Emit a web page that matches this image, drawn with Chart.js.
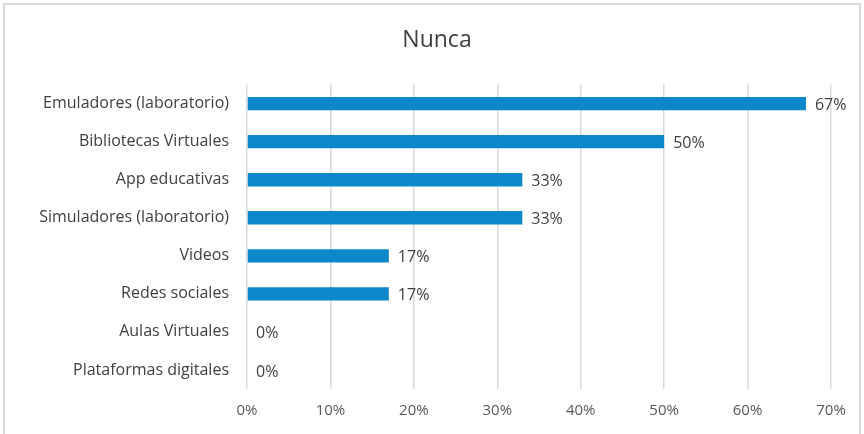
<!DOCTYPE html>
<html>
<head>
<meta charset="utf-8">
<script src="https://cdn.jsdelivr.net/npm/chart.js@4"></script>
<style>
    body { margin: 0; background: #fff; }
    #wrap { position: relative; width: 864px; height: 434px; }
    #frame { position: absolute; left: 3px; top: 3px; width: 854px; height: 440px; border: 2px solid #d9d9d9; }
</style>
</head>
<body>
<div id="wrap">
    <canvas id="chart" width="864" height="434"></canvas>
    <div id="frame"></div>
</div>
<script>
let categories = [
    "Emuladores (laboratorio)",
    "Bibliotecas Virtuales",
    "App educativas",
    "Simuladores (laboratorio)",
    "Videos",
    "Redes sociales",
    "Aulas Virtuales",
    "Plataformas digitales"
];
let values = [67, 50, 33, 33, 17, 17, 0, 0];
let chartTitle = "Nunca";

// etiquetas de valor al final de cada barra
const valueLabels = {
    id: "valueLabels",
    afterDatasetsDraw(c) {
        let ctx = c.ctx;
        let meta = c.getDatasetMeta(0);
        ctx.save();
        ctx.font = "16px 'Open Sans'";
        ctx.fillStyle = "#404040";
        ctx.textBaseline = "middle";
        meta.data.forEach((bar, i) => {
            ctx.fillText(values[i] + "%", bar.x + 9, bar.y + 2);
        });
        ctx.restore();
    }
};

new Chart(document.getElementById("chart"), {
    type: "bar",
    data: {
        labels: categories,
        datasets: [{
            data: values,
            backgroundColor: "#0a88c9",
            barPercentage: 0.7,
            categoryPercentage: 0.5
        }]
    },
    options: {
        indexAxis: "y",
        responsive: false,
        animation: false,
        layout: { padding: { left: 10, right: 0, top: 0, bottom: 0 } },
        plugins: {
            legend: { display: false },
            tooltip: { enabled: false },
            title: {
                display: true,
                text: chartTitle,
                color: "#404040",
                font: { family: "Open Sans", size: 23, weight: "normal" },
                padding: { top: 27, bottom: 30 }
            }
        },
        scales: {
            x: {
                min: 0,
                max: 70,
                ticks: {
                    stepSize: 10,
                    callback: v => v + "%",
                    color: "#595959",
                    font: { family: "Open Sans", size: 15 },
                    padding: 13,
                    maxRotation: 0
                },
                grid: { color: "#d9d9d9", lineWidth: 1.5, drawTicks: false },
                border: { display: false },
                afterFit: s => { s.height = 45; s.paddingRight = 33; }
            },
            y: {
                ticks: {
                    color: "#404040",
                    font: { family: "Open Sans", size: 16 },
                    padding: 18
                },
                grid: { display: false, drawTicks: false },
                border: { display: false },
                afterFit: s => { s.width = 237; }
            }
        }
    },
    plugins: [valueLabels]
});
</script>
</body>
</html>
